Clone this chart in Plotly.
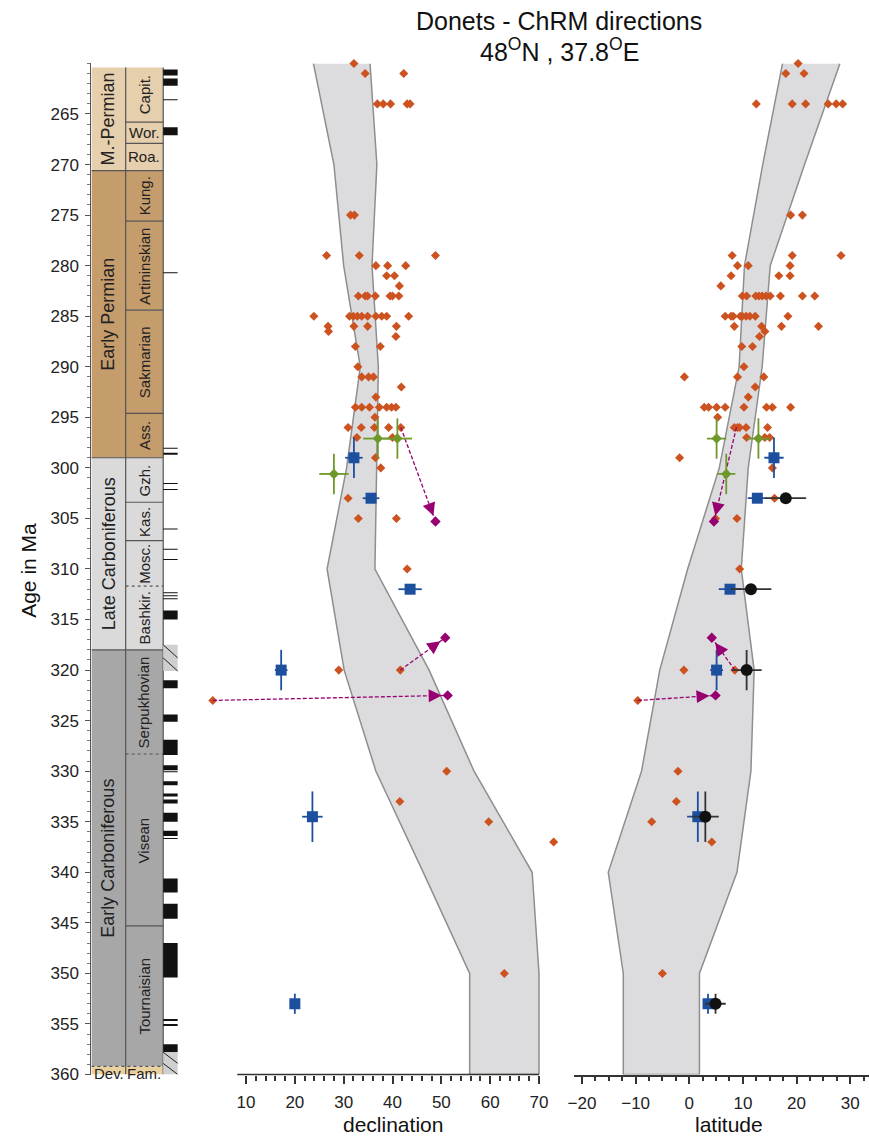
import plotly.graph_objects as go

W, H = 869, 1146
FONT = "Liberation Sans, Arial, Helvetica, sans-serif"

# ------------------------------------------------------------------ data
# stratigraphic column (ages in Ma)
period_names = ["M.-Permian", "Early Permian", "Late Carboniferous", "Early Carboniferous", "Dev."]
period_top = [260.4, 270.6, 299.0, 318.0, 359.2]
period_bottom = [270.6, 299.0, 318.0, 359.2, 360.0]
period_colors = ["#E6CFAD", "#C59C6C", "#DADADA", "#A7A7A7", "#EBD09F"]

stage_names = ["Capit.", "Wor.", "Roa.", "Kung.", "Artininskian", "Sakmarian", "Ass.",
               "Gzh.", "Kas.", "Mosc.", "Bashkir.", "Serpukhovian", "Visean", "Tournaisian", "Fam."]
stage_top = [260.4, 265.8, 267.9, 270.6, 275.6, 284.4, 294.6, 299.0, 303.4, 307.2, 311.7,
             318.0, 328.3, 345.3, 359.2]
stage_bottom = [265.8, 267.9, 270.6, 275.6, 284.4, 294.6, 299.0, 303.4, 307.2, 311.7, 318.0,
                328.3, 345.3, 359.2, 360.0]
stage_period = [0, 0, 0, 1, 1, 1, 1, 2, 2, 2, 2, 3, 3, 3, 4]
stage_vertical = [True, False, False, True, True, True, True, True, True, True, True,
                  True, True, True, False]
dotted_boundaries = [311.7, 328.3, 359.2]

# magnetic polarity (normal = black)
normal_top = [260.6, 261.5, 263.55, 266.3, 280.65, 298.0, 298.5, 301.5, 302.1, 306.0, 308.0,
              309.0, 312.3, 312.6, 312.9, 314.1, 321.0, 324.4, 326.9, 329.4, 330.0, 331.0,
              332.2, 332.8, 334.1, 335.9, 336.6, 340.6, 343.1, 347.0, 354.5, 355.0, 357.0]
normal_bottom = [261.2, 262.2, 263.65, 267.1, 280.75, 298.1, 298.7, 301.6, 302.2, 306.1, 308.1,
                 309.1, 312.4, 312.7, 313.0, 315.0, 321.8, 325.1, 328.4, 329.9, 330.1, 331.4,
                 332.5, 333.2, 335.0, 336.4, 336.7, 342.0, 344.6, 350.4, 354.7, 355.2, 357.8]
mixed_top = [317.5, 357.8]
mixed_bottom = [320.1, 360.0]

# reference path envelopes
band_age = [260, 270, 280, 290, 300, 310, 320, 330, 340, 350, 360]
dec_band_left = [23.8, 28.0, 30.0, 33.4, 30.6, 26.6, 30.1, 36.6, 46.3, 55.8, 55.8]
dec_band_right = [35.4, 36.8, 35.8, 37.1, 36.8, 36.4, 47.5, 56.7, 68.6, 70.0, 70.0]
lat_band_left = [17.4, 13.7, 10.3, 9.3, 5.6, -0.3, -5.5, -8.9, -15.1, -12.3, -12.3]
lat_band_right = [28.1, 21.5, 15.1, 13.6, 11.0, 9.7, 12.1, 11.5, 8.9, 1.9, 1.9]

# individual ChRM directions (orange diamonds)
dec_orange_age = [260, 261, 261, 264, 264, 264, 264, 264, 275, 275, 279, 279, 279,
                  280, 280, 280, 281, 281, 282,
                  283, 283, 283, 283, 283, 283, 283,
                  285, 285, 285, 285, 285, 285, 285, 285, 285, 285,
                  286, 286, 286, 286, 286.5, 287, 288, 288, 290, 291, 291, 291, 292, 293,
                  294, 294, 294, 294, 294, 294, 294, 295,
                  296, 296, 296, 296, 296, 297, 297, 299, 300, 303, 305, 305, 310,
                  320, 320, 323, 330, 333, 335, 337, 350]
dec_orange_val = [32.1, 34.4, 42.3, 36.9, 38.1, 39.6, 43.0, 43.6, 31.4, 32.2, 26.5, 33.2, 48.8,
                  36.6, 39.0, 42.7, 38.8, 40.4, 41.4,
                  33.0, 34.4, 34.9, 36.5, 39.5, 40.0, 41.3,
                  23.9, 31.2, 32.0, 32.8, 33.7, 34.9, 36.6, 37.8, 38.8, 43.3,
                  26.8, 32.1, 34.9, 40.8, 26.9, 40.7, 32.4, 37.5, 32.9, 33.7, 35.1, 36.1, 41.8, 36.6,
                  32.4, 33.7, 35.3, 37.3, 38.8, 39.8, 40.7, 36.4,
                  30.9, 33.6, 36.3, 39.2, 41.7, 32.7, 40.0, 36.5, 37.6, 30.9, 33.0, 40.8, 43.0,
                  29.0, 41.6, 3.2, 51.1, 41.5, 59.7, 73.0, 62.9]
lat_orange_age = [260, 261, 261, 264, 264, 264, 264, 264, 264, 275, 275, 279, 279, 279,
                  280, 280, 280, 281, 281, 281, 282,
                  283, 283, 283, 283, 283, 283, 283, 283, 283, 283,
                  285, 285, 285, 285, 285, 285, 285, 285, 285,
                  286, 286, 286, 286, 286.5, 287, 288, 288, 290, 291, 291, 291, 292, 293,
                  294, 294, 294, 294, 294, 294, 294, 294, 295,
                  296, 296, 296, 296, 296, 297, 297, 297, 299, 300, 303, 305, 305, 310,
                  320, 320, 323, 330, 333, 335, 337, 350]
lat_orange_val = [20.3, 18.0, 21.4, 12.5, 19.2, 21.7, 25.9, 27.4, 28.6, 18.9, 21.1, 8.0, 19.2, 28.3,
                  9.0, 11.0, 18.8, 7.8, 16.7, 18.8, 5.9,
                  9.9, 10.7, 12.4, 13.0, 13.6, 14.3, 15.1, 17.0, 21.1, 23.4,
                  6.7, 7.8, 8.2, 9.5, 9.9, 10.6, 11.3, 12.3, 18.4,
                  8.4, 13.5, 17.2, 24.1, 14.1, 13.1, 9.8, 11.8, 10.2, -0.9, 9.0, 13.9, 12.3, 11.0,
                  2.8, 3.6, 5.1, 6.7, 10.2, 14.4, 15.5, 18.9, 5.3,
                  8.4, 9.0, 9.4, 10.6, 14.6, 10.7, 14.1, 15.0, -1.8, 15.5, 15.9, 4.9, 8.9, 9.4,
                  -1.0, 8.5, -9.6, -2.1, -2.4, -7.0, 4.2, -5.0]

# blue squares (mean directions)
blue_age = [299, 303, 312, 320, 334.5, 353]
blue_age_err = [2, 0, 0, 2, 2.5, 1]
blue_dec = [32.1, 35.6, 43.6, 17.2, 23.6, 20.0]
blue_dec_err = [1.8, 1.7, 2.4, 1.3, 2.1, 0.8]
blue_lat = [15.8, 12.7, 7.6, 5.1, 1.6, 3.5]
blue_lat_err = [1.8, 1.8, 2.1, 1.2, 2.0, 0.8]

# black circles (latitude only)
black_age = [303, 312, 320, 334.5, 353]
black_age_err = [0, 0, 2, 2.5, 1]
black_lat = [18.0, 11.5, 10.7, 3.0, 4.9]
black_lat_err = [3.8, 3.8, 2.8, 2.5, 1.9]

# green crosses
green_age = [297.1, 297.1, 300.6]
green_age_err = [2, 2, 2]
green_dec = [37.0, 41.0, 28.0]
green_dec_err = [3.0, 3.0, 3.0]
green_lat = [5.1, 12.9, 6.9]
green_lat_err = [1.8, 2.2, 1.7]

# corrected directions (magenta) and their original positions
mag_age = [305.3, 316.8, 322.5]
mag_dec = [48.8, 50.8, 51.3]
mag_lat = [4.6, 4.2, 4.9]
src_age = [296, 320, 323]
src_dec = [41.7, 41.6, 3.2]
src_lat = [8.8, 8.5, -9.6]

age_ticks = [265, 270, 275, 280, 285, 290, 295, 300, 305, 310, 315, 320, 325, 330, 335,
             340, 345, 350, 355, 360]
dec_ticks = [10, 20, 30, 40, 50, 60, 70]
lat_ticks = [-20, -10, 0, 10, 20, 30]

# ------------------------------------------------------------------ layout constants (pixels)
AGE_TOP, AGE_BOT = 260, 360
PX_TOP, PX_BOT = 64, 1084
COL0, COL1, COL2, COL3 = 86, 120.5, 158.3, 173
DEC_RANGE, DEC_PX = [0, 75], [192.5, 561.3]
LAT_RANGE, LAT_PX = [-21.5, 33.5], [571.9, 868.9]

ORANGE = "#CC5320"
BLUE = "#1D4F9F"
GREEN = "#6E992A"
MAGENTA = "#960070"
BLACK = "#111111"
BAND_FILL = "#DCDCDE"
BAND_LINE = "#8E8E8E"

y_dom = [1 - PX_BOT / H, 1 - PX_TOP / H]

fig = go.Figure()
annotations = []


def add_panel(xa, ya, band_l, band_r, orange_age, orange_val, blue_v, blue_e,
              green_v, green_e, mag_v, src_v, kx, black=None):
    fig.add_trace(go.Scatter(
        x=band_l + band_r[::-1], y=band_age + band_age[::-1], mode="lines",
        fill="toself", fillcolor=BAND_FILL, line=dict(color=BAND_LINE, width=1.5),
        xaxis=xa, yaxis=ya, hoverinfo="skip", showlegend=False))
    fig.add_trace(go.Scatter(
        x=orange_val, y=orange_age, mode="markers", cliponaxis=False,
        marker=dict(symbol="diamond", size=7, color=ORANGE),
        xaxis=xa, yaxis=ya, showlegend=False))
    ky = (PX_BOT - PX_TOP) / (AGE_BOT - AGE_TOP)
    for i in range(len(mag_age)):
        fig.add_trace(go.Scatter(
            x=[src_v[i], mag_v[i]], y=[src_age[i], mag_age[i]], mode="lines",
            line=dict(color=MAGENTA, width=1.3, dash="4px,2px"),
            xaxis=xa, yaxis=ya, hoverinfo="skip", showlegend=False))
        dx = (src_v[i] - mag_v[i]) * kx
        dy = (src_age[i] - mag_age[i]) * ky
        n = (dx ** 2 + dy ** 2) ** 0.5
        annotations.append(dict(
            x=mag_v[i], y=mag_age[i], xref=xa, yref=ya, axref="pixel", ayref="pixel",
            ax=dx / n * 18, ay=dy / n * 18,
            text="", showarrow=True, arrowhead=2, arrowsize=2.0, arrowwidth=1.3,
            arrowcolor=MAGENTA, standoff=6))
    fig.add_trace(go.Scatter(
        x=mag_v, y=mag_age, mode="markers", cliponaxis=False,
        marker=dict(symbol="diamond", size=8, color=MAGENTA),
        xaxis=xa, yaxis=ya, showlegend=False))
    fig.add_trace(go.Scatter(
        x=green_v, y=green_age, mode="markers", cliponaxis=False,
        marker=dict(symbol="diamond", size=8, color=GREEN),
        error_x=dict(type="data", array=green_e, color=GREEN, thickness=1.8, width=0),
        error_y=dict(type="data", array=green_age_err, color=GREEN, thickness=1.8, width=0),
        xaxis=xa, yaxis=ya, showlegend=False))
    fig.add_trace(go.Scatter(
        x=blue_v, y=blue_age, mode="markers", cliponaxis=False,
        marker=dict(symbol="square", size=11, color=BLUE),
        error_x=dict(type="data", array=blue_e, color=BLUE, thickness=1.8, width=0),
        error_y=dict(type="data", array=blue_age_err, color=BLUE, thickness=1.8, width=0),
        xaxis=xa, yaxis=ya, showlegend=False))
    if black is not None:
        bv, be = black
        fig.add_trace(go.Scatter(
            x=bv, y=black_age, mode="markers", cliponaxis=False,
            marker=dict(symbol="circle", size=12, color=BLACK),
            error_x=dict(type="data", array=be, color="#333333", thickness=1.8, width=0),
            error_y=dict(type="data", array=black_age_err, color="#333333", thickness=1.8, width=0),
            xaxis=xa, yaxis=ya, showlegend=False))


kx_dec = (DEC_PX[1] - DEC_PX[0]) / (DEC_RANGE[1] - DEC_RANGE[0])
kx_lat = (LAT_PX[1] - LAT_PX[0]) / (LAT_RANGE[1] - LAT_RANGE[0])

add_panel("x2", "y2", dec_band_left, dec_band_right, dec_orange_age, dec_orange_val,
          blue_dec, blue_dec_err, green_dec, green_dec_err, mag_dec, src_dec, kx_dec)
add_panel("x3", "y3", lat_band_left, lat_band_right, lat_orange_age, lat_orange_val,
          blue_lat, blue_lat_err, green_lat, green_lat_err, mag_lat, src_lat, kx_lat,
          black=(black_lat, black_lat_err))

# ------------------------------------------------------------------ stratigraphic column
shapes = []
for name, t, b, c in zip(period_names, period_top, period_bottom, period_colors):
    shapes.append(dict(type="rect", xref="x", yref="y", x0=COL0, x1=COL1, y0=t, y1=b,
                       fillcolor=c, line=dict(width=0), layer="below"))
for t, b, p in zip(stage_top, stage_bottom, stage_period):
    shapes.append(dict(type="rect", xref="x", yref="y", x0=COL1, x1=COL2, y0=t, y1=b,
                       fillcolor=period_colors[p], line=dict(width=0), layer="below"))
for xv in [COL1, COL2]:
    shapes.append(dict(type="line", xref="x", yref="y", x0=xv, x1=xv,
                       y0=period_top[0], y1=AGE_BOT, line=dict(color="#555555", width=1.2)))
for t in period_top[1:]:
    shapes.append(dict(type="line", xref="x", yref="y", x0=COL0, x1=COL2, y0=t, y1=t,
                       line=dict(color="#555555", width=1.2,
                                 dash="dot" if t in dotted_boundaries else "solid")))
for t in stage_top[1:]:
    if t in period_top:
        continue
    shapes.append(dict(type="line", xref="x", yref="y", x0=COL1, x1=COL2, y0=t, y1=t,
                       line=dict(color="#555555", width=1.2,
                                 dash="dot" if t in dotted_boundaries else "solid")))
for t, b in zip(normal_top, normal_bottom):
    shapes.append(dict(type="rect", xref="x", yref="y", x0=COL2, x1=COL3, y0=t, y1=b,
                       fillcolor="#111111", line=dict(width=0)))
for t, b in zip(mixed_top, mixed_bottom):
    shapes.append(dict(type="rect", xref="x", yref="y", x0=COL2, x1=COL3, y0=t, y1=b,
                       fillcolor="#CFCFCF", line=dict(width=0)))
    m = (t + b) / 2
    shapes.append(dict(type="line", xref="x", yref="y", x0=COL2, x1=COL3, y0=t, y1=m,
                       line=dict(color="#222222", width=1)))
    shapes.append(dict(type="line", xref="x", yref="y", x0=COL2, x1=COL3, y0=m, y1=b,
                       line=dict(color="#222222", width=1)))

# declination axis line (partial)
shapes.append(dict(type="line", xref="x2", yref="paper", x0=8.2, x1=70,
                   y0=1 - PX_BOT / H, y1=1 - PX_BOT / H, line=dict(color="#333333", width=1.5)))

for name, t, b in zip(period_names, period_top, period_bottom):
    if name == "Dev.":
        annotations.append(dict(x=(COL0 + COL1) / 2, y=359.9, xref="x", yref="y", text=name,
                                showarrow=False, xanchor="center", yanchor="middle",
                                font=dict(size=15, color="#222")))
    else:
        annotations.append(dict(x=(COL0 + COL1) / 2, y=(t + b) / 2, xref="x", yref="y",
                                text=name, textangle=-90, showarrow=False,
                                xanchor="center", yanchor="middle",
                                font=dict(size=18, color="#222")))
for name, t, b, v in zip(stage_names, stage_top, stage_bottom, stage_vertical):
    yv = 359.9 if name == "Fam." else (t + b) / 2
    annotations.append(dict(x=(COL1 + COL2) / 2, y=yv, xref="x", yref="y", text=name,
                            textangle=-90 if v else 0, showarrow=False,
                            xanchor="center", yanchor="middle",
                            font=dict(size=15, color="#222")))

annotations += [
    dict(x=557 / W, y=1 - 21 / H, xref="paper", yref="paper", text="Donets - ChRM directions",
         showarrow=False, font=dict(size=25, color="#111"), xanchor="center", yanchor="middle"),
    dict(x=557 / W, y=1 - 50 / H, xref="paper", yref="paper",
         text="48<sup>O</sup>N , 37.8<sup>O</sup>E",
         showarrow=False, font=dict(size=25, color="#111"), xanchor="center", yanchor="middle"),
    dict(x=23 / W, y=1 - 575 / H, xref="paper", yref="paper", text="Age in Ma",
         textangle=-90, showarrow=False, font=dict(size=21, color="#111"),
         xanchor="center", yanchor="middle"),
    dict(x=389.5 / W, y=1 - 1134 / H, xref="paper", yref="paper", text="declination",
         showarrow=False, font=dict(size=21, color="#111"), xanchor="center", yanchor="middle"),
    dict(x=728 / W, y=1 - 1134 / H, xref="paper", yref="paper", text="latitude",
         showarrow=False, font=dict(size=21, color="#111"), xanchor="center", yanchor="middle"),
]

dec_minor = [v for v in range(12, 70, 2) if v % 10 != 0]
lat_minor = [v / 2 for v in range(-35, 66, 5) if v % 20 != 0]

common_x = dict(showgrid=False, zeroline=False, ticks="outside", ticklen=8, tickwidth=1.5,
                tickcolor="#333", tickfont=dict(size=17, color="#222"), ticklabelstandoff=4)

fig.update_layout(
    width=W, height=H, autosize=False,
    margin=dict(l=0, r=0, t=0, b=0),
    paper_bgcolor="white", plot_bgcolor="rgba(0,0,0,0)",
    font=dict(family=FONT, color="#222"),
    showlegend=False,
    xaxis=dict(domain=[COL0 / W, COL3 / W], range=[COL0, COL3], visible=False, anchor="y"),
    yaxis=dict(domain=y_dom, range=[AGE_BOT, AGE_TOP], anchor="x", showline=True,
               linecolor="#555", linewidth=1.2, ticks="outside", ticklen=5, tickwidth=1,
               tickcolor="#555", tickmode="array", tickvals=age_ticks, ticklabelstandoff=3,
               tickfont=dict(size=17, color="#222"), showgrid=False, zeroline=False,
               minor=dict(ticks="outside", ticklen=3, dtick=1, tick0=0, tickcolor="#777",
                          showgrid=False)),
    xaxis2=dict(domain=[DEC_PX[0] / W, DEC_PX[1] / W], range=DEC_RANGE, anchor="y2",
                showline=False, tickmode="array", tickvals=dec_ticks,
                minor=dict(ticks="outside", ticklen=5, tickmode="array", tickvals=dec_minor,
                           tickcolor="#333", showgrid=False), **common_x),
    yaxis2=dict(domain=y_dom, range=[AGE_BOT, AGE_TOP], anchor="x2", visible=False),
    xaxis3=dict(domain=[LAT_PX[0] / W, LAT_PX[1] / W], range=LAT_RANGE, anchor="y3",
                showline=True, linecolor="#333", linewidth=1.5, tickmode="array",
                tickvals=lat_ticks,
                minor=dict(ticks="outside", ticklen=5, tickmode="array", tickvals=lat_minor,
                           tickcolor="#333", showgrid=False), **common_x),
    yaxis3=dict(domain=y_dom, range=[AGE_BOT, AGE_TOP], anchor="x3", visible=False),
    shapes=shapes,
    annotations=annotations,
)

fig.write_html("out.html")
